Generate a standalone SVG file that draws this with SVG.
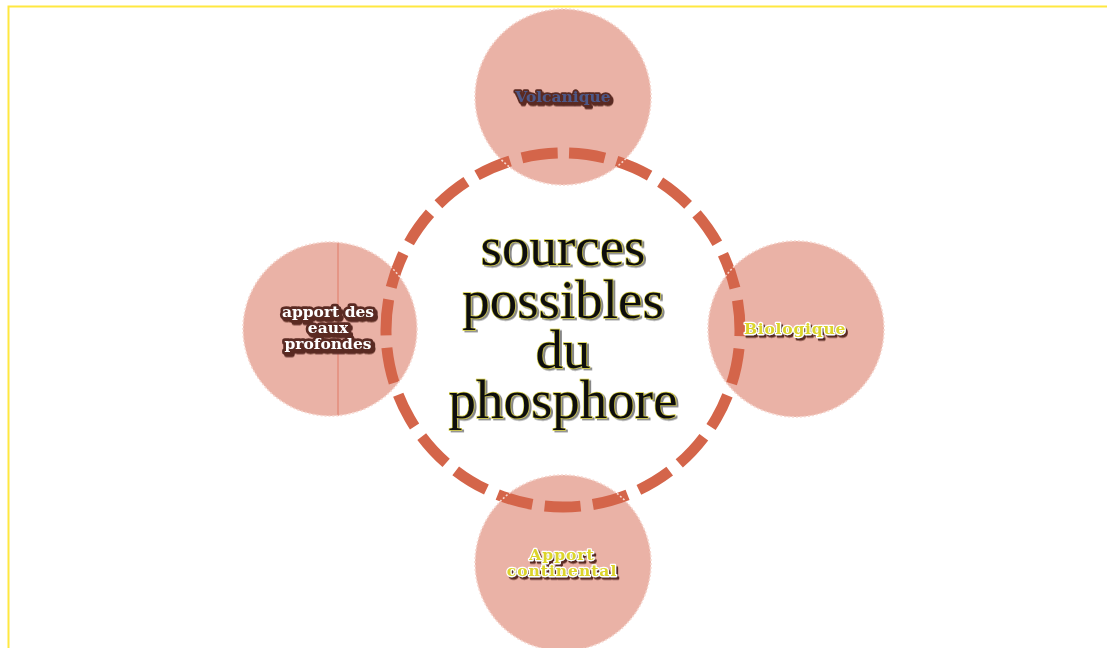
<svg xmlns="http://www.w3.org/2000/svg" width="1107" height="648" viewBox="0 0 1107 648">
<defs>
<filter id="brown" x="-20%" y="-40%" width="140%" height="180%">
<feDropShadow dx="2" dy="2.5" stdDeviation="0.4" flood-color="#5A2A24" flood-opacity="1"/>
</filter>
<filter id="gray" x="-10%" y="-10%" width="120%" height="120%">
<feDropShadow dx="2" dy="1.5" stdDeviation="0.5" flood-color="#7A7A7A" flood-opacity="0.9"/>
</filter>
</defs>
<style>
.bub{fill:#EAB2A6}
.edge{fill:none;stroke:#F6D6CE;stroke-width:1.6;stroke-dasharray:2 2}
.ring{fill:none;stroke:#D4654A;stroke-width:11;stroke-dasharray:36 12.35;stroke-dashoffset:42.17}
.lbl{font-family:"DejaVu Serif","Liberation Serif",serif;font-weight:bold;font-size:15.5px;text-anchor:middle;stroke-linejoin:round;paint-order:stroke;filter:url(#brown)}
.main{font-family:"Liberation Serif","DejaVu Serif",serif;font-size:55px;text-anchor:middle;fill:#111;stroke:#D8D040;stroke-width:1.3;paint-order:stroke;filter:url(#gray)}
</style>
<rect x="8.5" y="6.5" width="1120" height="660" fill="none" stroke="#FFE840" stroke-width="2"/>
<g id="node-volcanique">
<circle class="bub" cx="563" cy="97" r="88"/>
</g>
<g id="node-apport-eaux">
<circle class="bub" cx="330" cy="329" r="87"/>
<line x1="338" y1="242" x2="338" y2="416" stroke="#E07A66" stroke-width="1"/>
</g>
<g id="node-biologique">
<circle class="bub" cx="796" cy="329" r="88"/>
</g>
<g id="node-apport-continental">
<circle class="bub" cx="563" cy="563" r="88"/>
</g>
<g id="connectors">
<path class="ring" d="M563,153 A177,177 0 1,1 562.99,153 Z"/>
</g>
<g id="edges">
<circle class="edge" cx="563" cy="97" r="88"/>
<circle class="edge" cx="330" cy="329" r="87"/>
<circle class="edge" cx="796" cy="329" r="88"/>
<circle class="edge" cx="563" cy="563" r="88"/>
</g>
<g id="node-center">
<text class="main" x="563" y="265"><tspan x="563">sources</tspan><tspan x="563" dy="53">possibles</tspan><tspan x="563" dy="50">du</tspan><tspan x="563" dy="50">phosphore</tspan></text>
</g>
<g id="label-volcanique">
<text class="lbl" x="563" y="102" fill="#4E5888" stroke="#5A2A24" stroke-width="3.5">Volcanique</text>
</g>
<g id="label-eaux">
<text class="lbl" x="328" y="317" fill="#FFFFFF" stroke="#5A2A24" stroke-width="5.5"><tspan x="328">apport des</tspan><tspan x="328" dy="16">eaux</tspan><tspan x="328" dy="16">profondes</tspan></text>
</g>
<g id="label-biologique">
<text class="lbl" x="795" y="334" fill="#DCD42C" stroke="#FFFFFF" stroke-width="2.5" letter-spacing="0.8">Biologique</text>
</g>
<g id="label-continental">
<text class="lbl" x="562" y="560" fill="#DCD42C" stroke="#FFFFFF" stroke-width="2.5" letter-spacing="1"><tspan x="562">Apport</tspan><tspan x="562" dy="16">continental</tspan></text>
</g>
</svg>
